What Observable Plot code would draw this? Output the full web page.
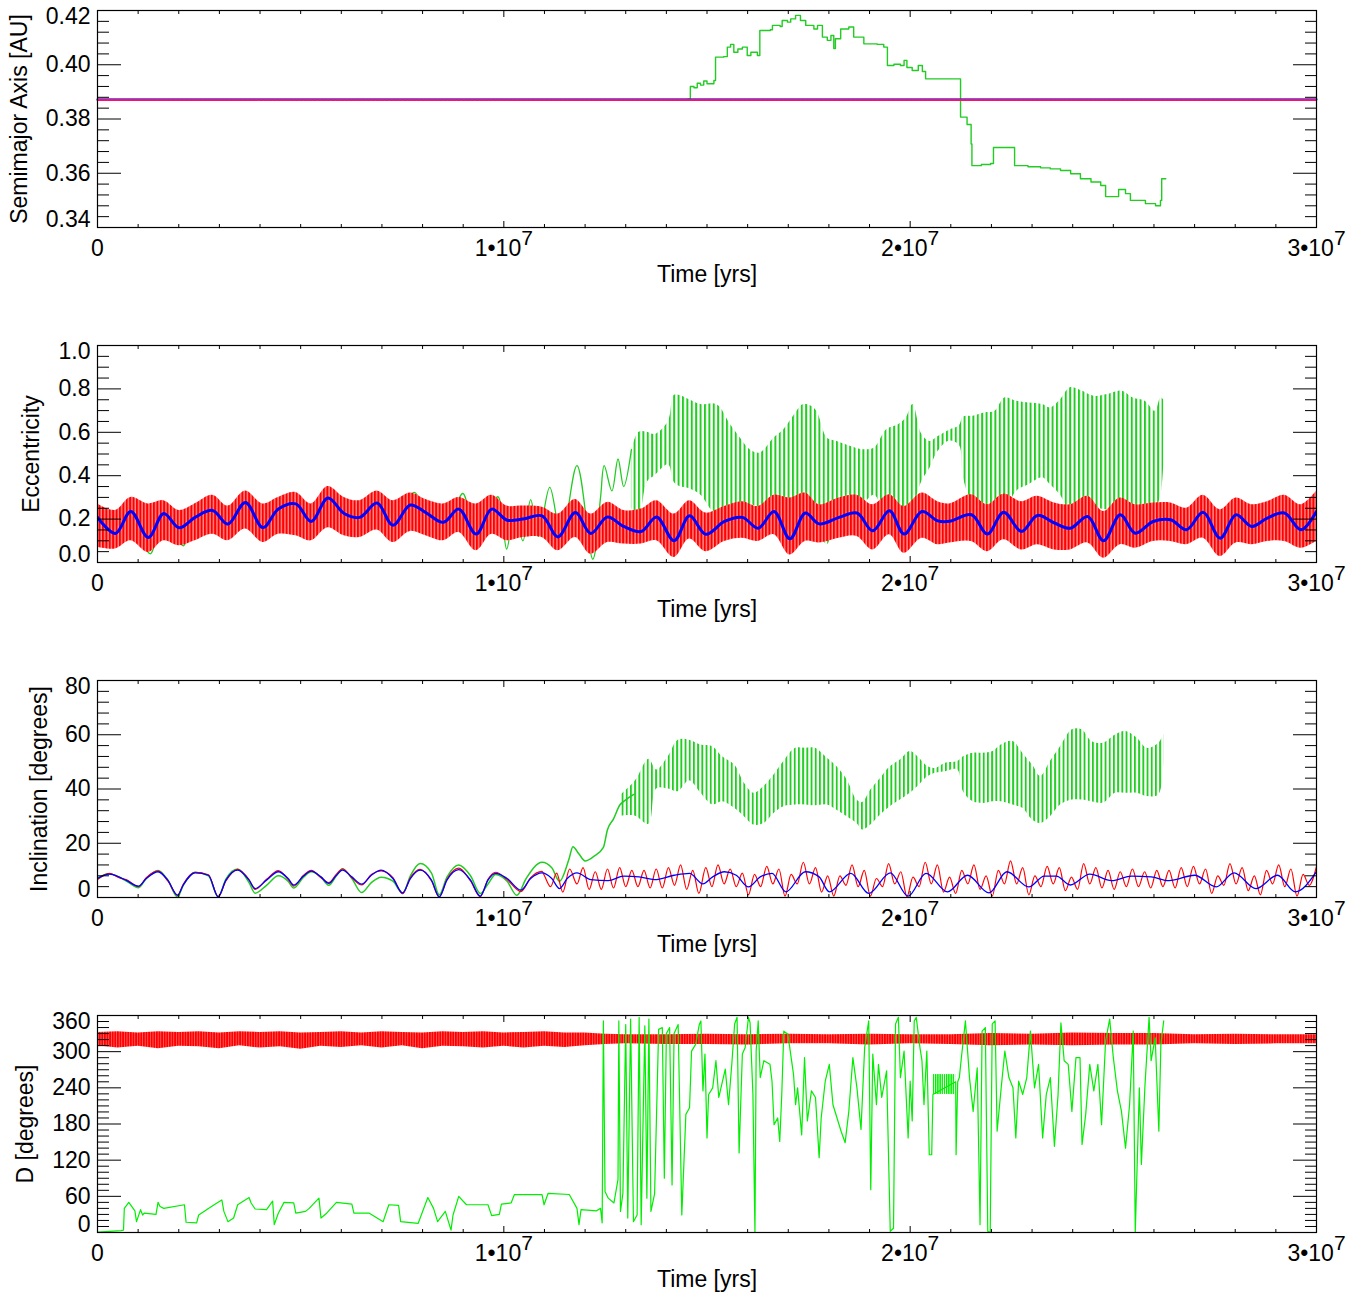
<!DOCTYPE html>
<html>
<head>
<meta charset="utf-8">
<script src="https://cdn.jsdelivr.net/npm/d3@7"></script>
<script src="https://cdn.jsdelivr.net/npm/@observablehq/plot@0.6"></script>
<style>
  html, body { margin: 0; padding: 0; background: #fff; }
  #charts svg { display: block; }
</style>
</head>
<body>
<div id="charts"></div>
<script>
// ---------------- DATA (time in Myr) ----------------
// Panel 1: semimajor axis [AU]
const axisTimeSpan = [0, 30];
const aRedLevel = 0.3870;
const aBlueLevel = 0.3872;
const aGreen = [[14.53,0.3874],[14.59,0.392],[14.68,0.3915],[14.76,0.3932],[14.84,0.3925],[14.92,0.394],[15.00,0.393],[15.17,0.3942],[15.21,0.4028],[15.41,0.403],[15.50,0.4065],[15.58,0.4075],[15.66,0.4046],[15.76,0.4058],[15.87,0.4065],[15.99,0.4034],[16.08,0.4046],[16.24,0.4034],[16.30,0.4126],[16.56,0.4129],[16.61,0.4145],[16.80,0.4141],[16.85,0.4163],[16.98,0.4157],[17.06,0.4169],[17.18,0.4182],[17.30,0.4163],[17.43,0.4145],[17.63,0.4132],[17.72,0.4145],[17.84,0.4102],[17.96,0.409],[18.05,0.4108],[18.12,0.406],[18.16,0.4096],[18.29,0.4132],[18.49,0.4139],[18.61,0.4102],[18.86,0.4077],[19.19,0.4075],[19.35,0.4065],[19.44,0.3997],[19.60,0.4002],[19.76,0.3997],[19.85,0.4016],[19.92,0.399],[20.05,0.3979],[20.20,0.3997],[20.30,0.3975],[20.38,0.3948],[21.20,0.3948],[21.24,0.3807],[21.40,0.378],[21.50,0.3708],[21.52,0.3628],[21.75,0.3632],[21.98,0.3636],[22.05,0.3695],[22.55,0.3695],[22.57,0.3628],[22.90,0.3624],[23.21,0.362],[23.45,0.3616],[23.70,0.361],[23.95,0.3598],[24.19,0.358],[24.45,0.3568],[24.69,0.3555],[24.81,0.3514],[25.13,0.354],[25.30,0.3525],[25.42,0.35],[25.79,0.3488],[26.04,0.348],[26.16,0.35],[26.19,0.358],[26.29,0.358]];

// Panel 2: eccentricity
const eccBlue = [[0,0.208],[0.44,0.134],[0.82,0.235],[1.25,0.115],[1.63,0.226],[2.01,0.16],[2.40,0.208],[2.83,0.24],[3.21,0.177],[3.64,0.277],[4.07,0.16],[4.45,0.246],[4.88,0.27],[5.26,0.189],[5.67,0.297],[6.07,0.226],[6.45,0.208],[6.88,0.274],[7.27,0.172],[7.70,0.265],[8.08,0.23],[8.51,0.185],[8.89,0.246],[9.32,0.131],[9.70,0.246],[10.08,0.195],[10.47,0.2],[10.94,0.215],[11.33,0.118],[11.76,0.23],[12.14,0.134],[12.55,0.21],[12.95,0.166],[13.38,0.143],[13.76,0.21],[14.19,0.1],[14.57,0.215],[14.97,0.13],[15.43,0.189],[15.87,0.208],[16.26,0.158],[16.65,0.235],[17.04,0.109],[17.42,0.228],[17.76,0.178],[18.25,0.208],[18.69,0.228],[19.08,0.146],[19.49,0.238],[19.85,0.131],[20.29,0.235],[20.68,0.192],[20.97,0.19],[21.51,0.22],[21.90,0.131],[22.30,0.232],[22.74,0.143],[23.13,0.217],[23.55,0.182],[23.94,0.158],[24.37,0.212],[24.76,0.1],[25.17,0.22],[25.54,0.135],[25.98,0.189],[26.41,0.197],[26.80,0.151],[27.21,0.231],[27.63,0.112],[28.02,0.22],[28.41,0.166],[28.79,0.205],[29.21,0.228],[29.62,0.151],[30.0,0.235]];
// [t, low, high] envelope of the fast red oscillation
const eccRed = [[0,0.07,0.27],[0.44,0.062,0.24],[0.82,0.1,0.3],[1.25,0.046,0.27],[1.63,0.1,0.285],[2.01,0.077,0.24],[2.40,0.1,0.27],[2.83,0.13,0.31],[3.21,0.1,0.26],[3.64,0.154,0.33],[4.07,0.092,0.27],[4.45,0.13,0.3],[4.88,0.123,0.323],[5.26,0.1,0.27],[5.67,0.16,0.35],[6.07,0.123,0.3],[6.45,0.115,0.285],[6.88,0.15,0.33],[7.27,0.092,0.285],[7.70,0.143,0.32],[8.08,0.123,0.29],[8.51,0.1,0.27],[8.89,0.138,0.3],[9.32,0.054,0.27],[9.70,0.13,0.31],[10.08,0.1,0.26],[10.47,0.115,0.26],[10.94,0.115,0.255],[11.33,0.054,0.223],[11.76,0.115,0.29],[12.14,0.038,0.223],[12.55,0.092,0.277],[12.95,0.085,0.24],[13.38,0.085,0.246],[13.76,0.1,0.285],[14.19,0.023,0.223],[14.57,0.108,0.285],[14.97,0.05,0.228],[15.43,0.097,0.258],[15.87,0.112,0.28],[16.26,0.097,0.258],[16.65,0.128,0.31],[17.04,0.035,0.297],[17.42,0.097,0.32],[17.76,0.09,0.266],[18.25,0.112,0.297],[18.69,0.12,0.31],[19.08,0.058,0.266],[19.49,0.128,0.312],[19.85,0.043,0.258],[20.29,0.112,0.32],[20.68,0.082,0.28],[20.97,0.09,0.27],[21.51,0.097,0.312],[21.90,0.05,0.266],[22.30,0.105,0.315],[22.74,0.058,0.28],[23.13,0.082,0.305],[23.55,0.058,0.274],[23.94,0.058,0.266],[24.37,0.09,0.305],[24.76,0.02,0.235],[25.17,0.082,0.297],[25.54,0.066,0.266],[25.98,0.097,0.274],[26.41,0.097,0.274],[26.80,0.082,0.25],[27.21,0.112,0.31],[27.63,0.028,0.243],[28.02,0.09,0.297],[28.41,0.082,0.266],[28.79,0.097,0.28],[29.21,0.097,0.31],[29.62,0.066,0.266],[30.0,0.097,0.328]];
const eccGreenEarly = [[0,0.19],[0.53,0.09],[0.82,0.22],[1.30,0.04],[1.63,0.28],[2.11,0.077],[2.40,0.27],[2.83,0.245],[3.21,0.16],[3.64,0.30],[4.07,0.108],[4.45,0.277],[4.88,0.26],[5.26,0.16],[5.67,0.315],[6.07,0.146],[6.45,0.21],[6.88,0.254],[7.27,0.10],[7.79,0.323],[8.08,0.235],[8.56,0.138],[8.99,0.318],[9.32,0.10],[9.85,0.303],[10.07,0.062],[10.26,0.25],[10.47,0.10],[10.66,0.29],[10.85,0.12],[11.13,0.346],[11.42,0.115],[11.80,0.446],[12.19,0.015],[12.38,0.30],[12.47,0.446],[12.66,0.33],[12.81,0.477],[12.95,0.35],[13.14,0.52]];
// [t, low, high] envelope of the fast green oscillation
const eccGreenBand = [[13.14,0.25,0.515],[13.33,0.22,0.60],[13.53,0.37,0.60],[13.72,0.40,0.59],[14.05,0.45,0.65],[14.19,0.37,0.77],[14.33,0.35,0.77],[14.57,0.34,0.75],[14.85,0.31,0.728],[15.24,0.22,0.728],[15.58,0.25,0.635],[15.82,0.25,0.574],[16.06,0.266,0.52],[16.31,0.25,0.505],[16.65,0.22,0.574],[16.89,0.158,0.612],[17.13,0.097,0.674],[17.38,0.143,0.728],[17.67,0.158,0.705],[17.96,0.082,0.574],[18.20,0.22,0.558],[18.54,0.25,0.535],[18.83,0.266,0.52],[19.12,0.31,0.528],[19.42,0.22,0.612],[19.71,0.25,0.635],[19.90,0.19,0.666],[20.07,0.25,0.728],[20.29,0.374,0.59],[20.49,0.435,0.558],[20.68,0.51,0.58],[20.97,0.56,0.61],[21.21,0.54,0.63],[21.31,0.39,0.67],[21.55,0.25,0.674],[21.85,0.143,0.69],[22.09,0.158,0.697],[22.33,0.22,0.758],[22.62,0.328,0.743],[22.92,0.358,0.735],[23.26,0.39,0.728],[23.45,0.358,0.712],[23.70,0.31,0.75],[23.94,0.235,0.805],[24.23,0.235,0.79],[24.52,0.25,0.766],[24.86,0.243,0.774],[25.20,0.25,0.79],[25.49,0.243,0.758],[25.78,0.258,0.743],[26.03,0.25,0.697],[26.17,0.31,0.758],[26.24,0.45,0.75]];

// Panel 3: inclination [deg]
const inclBlue = [[0,7.0],[0.29,8.6],[0.53,7.6],[0.72,6.2],[1.01,4.2],[1.20,7.0],[1.49,9.5],[1.73,6.4],[1.97,0.9],[2.11,4.6],[2.40,9.1],[2.73,8.2],[2.97,0.25],[3.16,6.4],[3.45,10.1],[3.73,6.4],[3.88,3.3],[4.16,6.4],[4.45,9.5],[4.69,7.0],[4.83,4.6],[5.07,7.9],[5.26,9.7],[5.50,7.6],[5.69,5.2],[5.88,8.2],[6.03,10.1],[6.26,7.6],[6.50,4.9],[6.74,8.2],[6.98,10.1],[7.27,7.0],[7.51,1.7],[7.70,7.0],[7.94,10.1],[8.22,6.4],[8.41,0.25],[8.60,6.4],[8.89,10.3],[9.18,6.4],[9.42,0.5],[9.61,6.4],[9.80,8.9],[10.08,7.0],[10.42,2.7],[10.66,7.0],[10.94,9.1],[11.18,7.0],[11.37,3.3],[11.56,7.0],[11.80,9.1],[12.14,6.6],[12.57,6.2],[12.95,7.9],[13.33,7.6],[13.71,6.6],[14.19,8.2],[14.57,8.9],[14.90,5.0],[15.14,7.6],[15.43,9.5],[15.72,8.2],[16.02,3.9],[16.31,7.6],[16.60,8.9],[16.94,2.1],[17.42,9.5],[17.76,7.6],[18.01,2.1],[18.54,8.9],[18.98,1.5],[19.51,9.1],[19.95,0.5],[20.39,8.9],[20.92,2.1],[21.41,8.2],[21.94,1.7],[22.38,9.5],[22.92,3.9],[23.30,7.9],[23.60,7.9],[23.94,4.6],[24.42,8.6],[24.96,6.2],[25.45,7.9],[25.93,7.6],[26.37,6.2],[27.00,8.2],[27.53,3.9],[27.97,9.1],[28.51,3.3],[29.04,8.2],[29.48,2.1],[30.0,9.5]];
const inclRedEarly = [[0,6.6],[0.29,8.9],[0.53,7.3],[0.72,6.5],[1.01,4.0],[1.20,7.3],[1.49,9.8],[1.73,6.1],[1.97,0.8],[2.11,4.9],[2.40,9.3],[2.73,8.4],[2.97,0.3],[3.16,6.1],[3.45,10.4],[3.73,6.6],[3.88,3.0],[4.16,6.7],[4.45,9.9],[4.69,6.7],[4.83,4.2],[5.07,8.2],[5.26,10.0],[5.50,7.3],[5.69,5.5],[5.88,8.6],[6.03,10.6],[6.26,7.3],[6.50,4.6],[6.74,8.5],[6.98,9.8],[7.27,7.3],[7.51,1.4],[7.70,7.3],[7.94,10.4],[8.22,6.1],[8.41,0.2],[8.60,6.7],[8.89,10.8],[9.18,6.1],[9.42,0.3],[9.61,6.7],[9.80,9.3],[10.08,6.6],[10.42,2.2],[10.66,7.3],[10.94,9.6]];
const inclRedLate = [[11.00,8],[11.15,4],[11.30,9],[11.45,2],[11.62,10.5],[11.80,5],[11.95,11],[12.10,3],[12.25,9.5],[12.40,3],[12.55,10.5],[12.70,3.5],[12.85,11],[13.00,4],[13.15,10],[13.30,4],[13.45,10],[13.60,3.5],[13.75,10.5],[13.90,3.5],[14.05,11],[14.20,4.5],[14.35,12],[14.50,3],[14.65,10],[14.80,1.5],[14.97,11],[15.12,4],[15.27,12],[15.42,5],[15.57,10.5],[15.72,4],[15.87,9],[16.02,1],[16.17,8.5],[16.32,4],[16.47,11.5],[16.62,5],[16.77,10.5],[16.92,0.5],[17.07,8.5],[17.22,5],[17.37,13],[17.52,5],[17.67,11],[17.82,2],[17.97,8],[18.12,0.5],[18.27,8],[18.42,4.5],[18.57,12],[18.72,4],[18.87,10],[19.02,0.5],[19.17,7],[19.32,4],[19.47,12.5],[19.62,5],[19.77,9.5],[19.92,0.3],[20.07,7.5],[20.22,4],[20.37,13],[20.52,5],[20.67,12],[20.82,2],[20.97,7.5],[21.12,1.5],[21.27,10],[21.42,5],[21.57,12],[21.72,3],[21.87,8],[22.02,0.5],[22.17,10],[22.32,5],[22.47,13.5],[22.62,5],[22.77,11],[22.92,1],[23.07,8],[23.22,4],[23.37,11.5],[23.52,5],[23.67,11],[23.82,2.5],[23.97,7.5],[24.12,3],[24.27,12.5],[24.42,5],[24.57,11],[24.72,3.5],[24.87,10],[25.02,3],[25.17,9.5],[25.32,4],[25.47,10.5],[25.62,4],[25.77,9.5],[25.92,3.5],[26.07,10],[26.22,4],[26.37,10],[26.52,3.5],[26.67,11],[26.82,4],[26.97,11.5],[27.12,5],[27.27,10.5],[27.42,1.5],[27.57,8],[27.72,4.5],[27.87,12.5],[28.02,5],[28.17,11],[28.32,2.5],[28.47,8],[28.62,1],[28.77,10],[28.92,5],[29.07,12],[29.22,4],[29.37,10.5],[29.52,0.5],[29.67,8.5],[29.82,4.5],[30.00,11.5]];
const inclGreenEarly = [[0,7.2],[0.29,8.8],[0.53,7.5],[0.72,6.0],[1.01,3.6],[1.20,7.0],[1.49,10.0],[1.73,6.5],[1.97,0.2],[2.11,4.5],[2.40,9.3],[2.73,8.0],[2.97,0.3],[3.16,6.8],[3.45,10.5],[3.73,5.5],[3.88,1.6],[4.16,4.5],[4.45,8.0],[4.69,6.0],[4.83,3.5],[5.07,7.5],[5.26,9.5],[5.50,7.5],[5.69,4.5],[5.88,8.0],[6.03,10.5],[6.26,7.0],[6.50,1.8],[6.74,5.5],[6.98,7.5],[7.27,6.0],[7.51,1.5],[7.70,8.0],[7.94,12.5],[8.22,9.0],[8.41,1.0],[8.60,7.5],[8.89,12.0],[9.18,8.0],[9.42,1.5],[9.61,5.0],[9.80,8.5],[10.08,6.0],[10.32,0.8],[10.55,7.0],[10.94,13.0],[11.18,11.0],[11.37,6.0],[11.60,14.0],[11.70,18.7],[11.85,16.0],[12.00,13.5],[12.20,15.0],[12.45,18.5],[12.55,25.0],[12.70,29.0],[12.85,34.0],[13.00,36.0],[13.20,38.0]];
const inclGreenBand = [[12.9,30,38],[13.24,30,43],[13.57,27,51],[13.76,40,47],[14.05,40,52],[14.29,39,58],[14.57,43,58],[14.85,38.4,56.2],[15.14,34.1,55.6],[15.38,35.3,51.9],[15.68,32.9,48.9],[15.92,29.8,42.1],[16.16,26.7,38.4],[16.40,27.3,40.9],[16.65,31.0,45.2],[16.89,33.5,50.1],[17.18,34.1,55.0],[17.42,34.1,55.0],[17.67,33.8,55.0],[17.96,34.1,51.3],[18.20,32.2,48.2],[18.45,29.8,43.3],[18.69,27.3,35.9],[18.83,24.9,35],[19.03,26.7,39.6],[19.27,30.4,43.9],[19.51,33.5,48.2],[19.76,35.9,50.7],[20.0,38.4,53.8],[20.19,40.9,51.9],[20.44,44.6,48.2],[20.63,45.8,47.6],[20.87,46.4,49.5],[21.17,47.0,50.1],[21.31,39,51.9],[21.55,35.3,53.2],[21.80,34.7,53.2],[22.04,35.3,53.8],[22.24,35.3,56.2],[22.53,34.1,57.5],[22.77,32.9,53.2],[23.01,28.6,48.9],[23.21,27.3,44.6],[23.45,29.8,50.1],[23.70,34.1,55.6],[23.99,35.9,61.8],[24.23,35.9,61.8],[24.47,35.3,57.5],[24.76,34.8,56.9],[25.05,38.4,59.9],[25.30,38.4,61.2],[25.59,38.4,58.7],[25.83,37.2,55.0],[26.12,37.8,56.9],[26.24,50.7,59.9]];

// Panel 4: D [deg]
const dRed = [[0,310,332],[0.5,306,333],[1,309,331],[1.5,305,333],[2,309,332],[2.5,308,333],[3,305,331],[3.5,310,333],[4,306,332],[4.5,308,333],[5,304,331],[5.5,309,332],[6,307,333],[6.5,310,331],[7,306,333],[7.5,310,332],[8,305,331],[8.5,309,333],[9,308,332],[9.5,306,333],[10,309,331],[10.5,306,332],[11,309,333],[11.5,307,331],[12,310,331],[12.5,312,329],[13,313,328],[14,312,328],[15,312,329],[16,311,328],[17,313,329],[18,313,328],[19,311,329],[20,313,328],[21,312,328],[22,310,330],[23,311,329],[24,310,331],[25,311,330],[26,311,330],[27,313,328],[28,312,329],[29,313,328],[30,313,328]];
const dGreen = [[0,0.5],[0.58,3],[0.64,4],[0.66,40],[0.77,50],[0.92,36],[0.96,18],[1.06,38],[1.11,29],[1.15,32],[1.44,30],[1.49,50],[1.54,43],[1.63,40],[2.14,46],[2.18,17],[2.44,16],[2.49,29],[2.73,40],[2.92,48],[3.06,54],[3.11,35],[3.21,18],[3.35,24],[3.45,46],[3.73,58],[3.78,49],[3.88,39],[4.16,38],[4.31,52],[4.35,13],[4.45,32],[4.59,50],[4.83,49],[4.88,32],[5.12,35],[5.21,40],[5.45,57],[5.50,24],[5.64,32],[5.88,50],[6.26,47],[6.31,32],[6.69,32],[7.03,18],[7.17,46],[7.41,45],[7.46,18],[7.89,15],[8.13,58],[8.27,40],[8.37,18],[8.56,35],[8.70,4],[8.75,29],[8.89,60],[9.08,46],[9.61,46],[9.70,28],[9.89,30],[9.94,47],[10.18,49],[10.26,63],[10.94,63],[10.99,46],[11.09,65],[11.61,63],[11.80,40],[11.85,13],[11.90,38],[12.28,36],[12.38,40],[12.42,16],[12.45,351],[12.49,68],[12.57,57],[12.71,49],[12.81,88],[12.83,351],[12.87,35],[12.93,65],[13.00,345],[13.05,24],[13.12,354],[13.19,18],[13.28,29],[13.33,357],[13.38,13],[13.47,343],[13.52,57],[13.57,354],[13.62,35],[13.71,64],[13.81,337],[13.90,340],[13.95,90],[14.00,330],[14.08,340],[14.14,79],[14.19,330],[14.29,345],[14.38,29],[14.48,196],[14.57,207],[14.62,301],[14.72,312],[14.81,345],[14.85,351],[14.90,235],[14.95,296],[15.00,157],[15.04,229],[15.14,240],[15.22,285],[15.29,224],[15.45,271],[15.53,212],[15.61,279],[15.68,346],[15.74,357],[15.79,132],[15.87,296],[15.94,307],[16.02,357],[16.06,348],[16.13,229],[16.18,0],[16.21,301],[16.26,351],[16.31,257],[16.40,285],[16.55,279],[16.60,251],[16.65,179],[16.74,190],[16.79,151],[16.84,229],[16.89,334],[16.99,329],[17.13,262],[17.18,212],[17.23,240],[17.33,162],[17.40,290],[17.47,185],[17.57,235],[17.67,224],[17.76,124],[17.81,190],[17.91,251],[18.01,279],[18.10,212],[18.20,190],[18.30,168],[18.40,149],[18.49,201],[18.59,290],[18.69,240],[18.79,171],[18.88,307],[18.98,351],[19.03,71],[19.08,296],[19.17,212],[19.22,279],[19.30,224],[19.42,268],[19.51,2],[19.59,7],[19.64,346],[19.71,357],[19.76,257],[19.85,301],[19.95,157],[20.00,251],[20.05,185],[20.10,351],[20.15,357],[20.24,307],[20.29,285],[20.34,212],[20.41,301],[20.47,129],[20.53,129],[20.56,229],[21.12,250],[21.13,129],[21.17,250],[21.21,257],[21.26,290],[21.36,351],[21.46,257],[21.55,201],[21.65,273],[21.72,13],[21.77,334],[21.85,340],[21.91,2],[21.97,0],[22.02,346],[22.09,351],[22.14,168],[22.24,240],[22.33,301],[22.43,257],[22.53,240],[22.60,157],[22.67,251],[22.77,229],[22.87,257],[22.96,334],[23.06,240],[23.16,279],[23.26,157],[23.35,229],[23.45,257],[23.55,143],[23.64,229],[23.71,348],[23.79,285],[23.89,279],[23.98,201],[24.08,290],[24.18,290],[24.23,146],[24.32,196],[24.42,279],[24.52,235],[24.62,279],[24.71,179],[24.81,318],[24.91,354],[25.00,290],[25.10,235],[25.20,201],[25.30,140],[25.40,212],[25.49,334],[25.54,0],[25.64,240],[25.69,113],[25.78,246],[25.88,357],[25.93,285],[26.03,323],[26.12,168],[26.17,312],[26.24,351]];
const dGreenPlateau = [[20.56,229,262],[21.12,229,262]];

// Axis ticks
const xMajor = [0, 1e7, 2e7, 3e7];
const xMinor = d3.range(0, 3e7 + 1, 1e6).filter(v => v % 1e7 !== 0);
const aTicks = [0.34, 0.36, 0.38, 0.40, 0.42];
const eTicks = [0, 0.2, 0.4, 0.6, 0.8, 1.0];
const iTicks = [0, 20, 40, 60, 80];
const dTicks = [0, 60, 120, 180, 240, 300, 360];

// ---------------- RENDERING ----------------
const FONT = "'Liberation Sans', Arial, Helvetica, sans-serif";
const MY = 1e6;
const tx = d => d[0] * MY;
const GREEN = "#22cc22";

function panel(cfg) {
  const {height, yDomain, yMajor, yMinorStep, yFmt, yTitle, titleDx, marks, patterns} = cfg;
  const eps = yMinorStep / 100;
  const yMinor = d3.range(yDomain[0], yDomain[1] + eps, yMinorStep)
    .filter(v => !yMajor.some(m => Math.abs(m - v) < eps));
  const inner = yMajor.slice(1, -1);
  const blank = () => "";
  const xFmt = d => d === 0 ? "0" : `${d / 1e7}•10|7`;
  const svg = Plot.plot({
    width: 1356, height,
    marginLeft: 97, marginRight: 40, marginTop: 10, marginBottom: height - 10 - 217,
    style: {fontFamily: FONT, fontSize: "23px", color: "#000", background: "#fff", overflow: "visible"},
    x: {domain: [0, 3e7]},
    y: {domain: yDomain},
    marks: [
      ...marks,
      Plot.frame({stroke: "#000", strokeWidth: 1.2}),
      Plot.axisY(yMajor, {anchor: "left", tickSize: -24, tickFormat: blank, label: null}),
      Plot.axisY(yMajor, {anchor: "right", tickSize: -24, tickFormat: blank, label: null}),
      Plot.axisY(yMinor, {anchor: "left", tickSize: -12, tickFormat: blank, label: null}),
      Plot.axisY(yMinor, {anchor: "right", tickSize: -12, tickFormat: blank, label: null}),
      Plot.axisX(xMajor, {anchor: "bottom", tickSize: -6, tickFormat: blank, label: null}),
      Plot.axisX(xMajor, {anchor: "top", tickSize: -6, tickFormat: blank, label: null}),
      Plot.axisX(xMinor, {anchor: "bottom", tickSize: -3, tickFormat: blank, label: null}),
      Plot.axisX(xMinor, {anchor: "top", tickSize: -3, tickFormat: blank, label: null}),
      Plot.axisY(inner, {anchor: "left", tickSize: 0, tickPadding: 7, tickFormat: yFmt, label: null}),
      Plot.axisY([yMajor[yMajor.length - 1]], {anchor: "left", tickSize: 0, tickPadding: 7, tickFormat: yFmt, label: null, dy: 6}),
      Plot.axisY([yMajor[0]], {anchor: "left", tickSize: 0, tickPadding: 7, tickFormat: yFmt, label: null, dy: -8}),
      Plot.axisX(xMajor, {anchor: "bottom", tickSize: 0, tickPadding: 12, tickFormat: xFmt, label: null}),
      Plot.text(["Time [yrs]"], {text: d => d, frameAnchor: "bottom", textAnchor: "middle", lineAnchor: "middle", dy: 47, fontSize: 23}),
      Plot.text([yTitle], {text: d => d, frameAnchor: "left", textAnchor: "middle", lineAnchor: "middle", rotate: -90, dx: titleDx, fontSize: 23})
    ]
  });
  // stripe patterns for dense oscillations
  if (patterns && patterns.length) {
    const defs = d3.select(svg).insert("defs", ":first-child");
    for (const p of patterns) {
      const pat = defs.append("pattern").attr("id", p.id)
        .attr("patternUnits", "userSpaceOnUse").attr("width", p.w).attr("height", 10);
      if (p.bg) pat.append("rect").attr("width", p.w).attr("height", 10).attr("fill", p.bg);
      pat.append("rect").attr("width", p.s).attr("height", 10).attr("fill", p.c);
    }
  }
  // superscript exponents
  d3.select(svg).selectAll("text").each(function () {
    const m = this.textContent.match(/^(\d)•10\|(\d)$/);
    if (m) {
      this.textContent = m[1] + "•10";
      const ts = document.createElementNS("http://www.w3.org/2000/svg", "tspan");
      ts.setAttribute("dy", "-11");
      ts.setAttribute("font-size", "21");
      ts.textContent = m[2];
      this.appendChild(ts);
    }
  });
  document.getElementById("charts").appendChild(svg);
}

// Panel 1
panel({
  height: 335, yDomain: [0.34, 0.42], yMajor: aTicks, yMinorStep: 0.004,
  yFmt: d3.format(".2f"), yTitle: "Semimajor Axis [AU]", titleDx: -78,
  marks: [
    Plot.line(aGreen, {x: tx, y: d => d[1], stroke: GREEN, strokeWidth: 1.4, curve: "step-after", clip: true}),
    Plot.line(axisTimeSpan, {x: d => d * MY, y: () => aBlueLevel, stroke: "#3030ff", strokeWidth: 2.2}),
    Plot.line(axisTimeSpan, {x: d => d * MY, y: () => aRedLevel, stroke: "#ff1060", strokeWidth: 2, strokeDasharray: "3,1.5"})
  ]
});

// Panel 2
panel({
  height: 335, yDomain: [0, 1], yMajor: eTicks, yMinorStep: 0.05,
  yFmt: d3.format(".1f"), yTitle: "Eccentricity", titleDx: -66,
  patterns: [
    {id: "eGreenStripes", w: 4.4, s: 2.0, c: "#22cc22"},
    {id: "eRedStripes", w: 3.4, s: 2.0, c: "#ff0000", bg: "#ff8c8c"}
  ],
  marks: [
    Plot.areaY(eccGreenBand, {x: tx, y1: d => d[1], y2: d => d[2], fill: "url(#eGreenStripes)", curve: "catmull-rom", clip: true}),
    Plot.line(eccGreenEarly, {x: tx, y: d => d[1], stroke: GREEN, strokeWidth: 1.3, curve: "catmull-rom", clip: true}),
    Plot.areaY(eccRed, {x: tx, y1: d => d[1], y2: d => d[2], fill: "url(#eRedStripes)", curve: "catmull-rom", clip: true}),
    Plot.line(eccBlue, {x: tx, y: d => d[1], stroke: "#0000ff", strokeWidth: 3, curve: "catmull-rom", clip: true})
  ]
});

// Panel 3
panel({
  height: 335, yDomain: [0, 80], yMajor: iTicks, yMinorStep: 4,
  yFmt: d3.format("d"), yTitle: "Inclination [degrees]", titleDx: -58,
  patterns: [
    {id: "iGreenStripes", w: 4.2, s: 1.9, c: "#22cc22"}
  ],
  marks: [
    Plot.areaY(inclGreenBand, {x: tx, y1: d => d[1], y2: d => d[2], fill: "url(#iGreenStripes)", curve: "catmull-rom", clip: true}),
    Plot.line(inclGreenEarly, {x: tx, y: d => d[1], stroke: GREEN, strokeWidth: 1.5, curve: "monotone-x", clip: true}),
    Plot.line(inclRedEarly.concat(inclRedLate), {x: tx, y: d => d[1], stroke: "#ff0000", strokeWidth: 1.2, curve: "monotone-x", clip: true}),
    Plot.line(inclBlue, {x: tx, y: d => d[1], stroke: "#0000ff", strokeWidth: 1.3, curve: "monotone-x", clip: true})
  ]
});

// Panel 4
panel({
  height: 288, yDomain: [0, 360], yMajor: dTicks, yMinorStep: 10,
  yFmt: d3.format("d"), yTitle: "D [degrees]", titleDx: -72,
  patterns: [
    {id: "dRedStripes", w: 2.6, s: 1.8, c: "#ff0000", bg: "#ff6a6a"},
    {id: "dGreenStripes", w: 2.2, s: 1.4, c: "#00ee00"}
  ],
  marks: [
    Plot.areaY(dRed, {x: tx, y1: d => d[1], y2: d => d[2], fill: "url(#dRedStripes)", clip: true}),
    Plot.areaY(dGreenPlateau, {x: tx, y1: d => d[1], y2: d => d[2], fill: "url(#dGreenStripes)", clip: true}),
    Plot.line(dGreen, {x: tx, y: d => d[1], stroke: "#00ee00", strokeWidth: 1.2, clip: true})
  ]
});
</script>
</body>
</html>
